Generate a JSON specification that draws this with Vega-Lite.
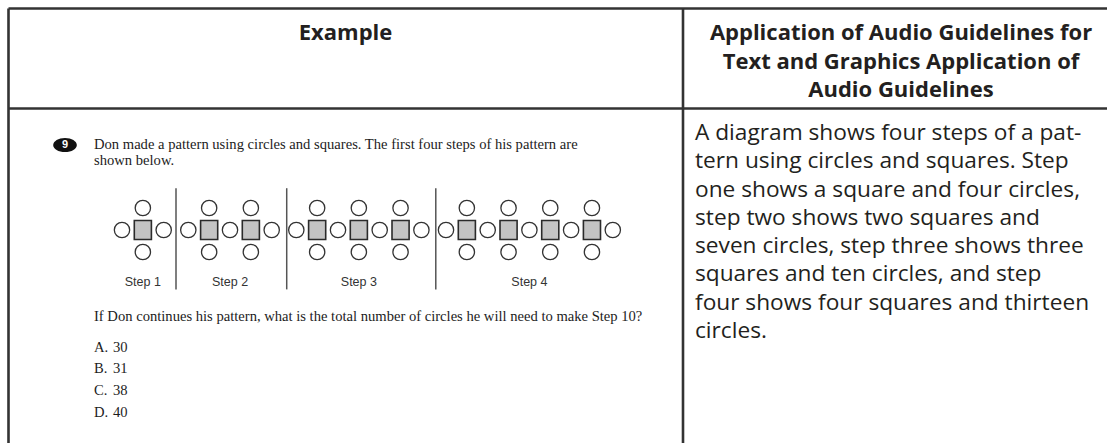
{
  "$schema": "https://vega.github.io/schema/vega-lite/v6.json",
  "width": 1107,
  "height": 443,
  "autosize": "none",
  "padding": 0,
  "background": "#ffffff",
  "config": {"view": {"stroke": null}},
  "datasets": {
    "grid": [
      {"part": "top border", "c1": 0, "c2": 2, "r1": 0, "r2": 0},
      {"part": "header rule", "c1": 0, "c2": 2, "r1": 1, "r2": 1},
      {"part": "left border", "c1": 0, "c2": 0, "r1": 0, "r2": 2},
      {"part": "column rule", "c1": 1, "c2": 1, "r1": 0, "r2": 2}
    ],
    "header": [
      {"col": 0, "line": 1, "text": "Example"},
      {"col": 1, "line": 1, "text": "Application of Audio Guidelines for"},
      {"col": 1, "line": 2, "text": "Text and Graphics Application of"},
      {"col": 1, "line": 3, "text": "Audio Guidelines"}
    ],
    "audio": [
      {"line": 1, "text": "A diagram shows four steps of a pat-"},
      {"line": 2, "text": "tern using circles and squares. Step"},
      {"line": 3, "text": "one shows a square and four circles,"},
      {"line": 4, "text": "step two shows two squares and"},
      {"line": 5, "text": "seven circles, step three shows three"},
      {"line": 6, "text": "squares and ten circles, and step"},
      {"line": 7, "text": "four shows four squares and thirteen"},
      {"line": 8, "text": "circles."}
    ],
    "badge": [{"line": 1, "item": "9"}],
    "question": [
      {"line": 1, "text": "Don made a pattern using circles and squares. The first four steps of his pattern are"},
      {"line": 2, "text": "shown below."},
      {"line": 3, "text": "If Don continues his pattern, what is the total number of circles he will need to make Step 10?"}
    ],
    "options": [
      {"line": 4, "option": "A.", "value": 30},
      {"line": 5, "option": "B.", "value": 31},
      {"line": 6, "option": "C.", "value": 38},
      {"line": 7, "option": "D.", "value": 40}
    ],
    "dividers": [
      {"after_step": 1, "pos": 2.59},
      {"after_step": 2, "pos": 7.9},
      {"after_step": 3, "pos": 15.05}
    ],
    "circles": [
      {"step": 1, "pos": 0, "level": 2}, {"step": 1, "pos": 2, "level": 2},
      {"step": 1, "pos": 1, "level": 1}, {"step": 1, "pos": 1, "level": 3},
      {"step": 2, "pos": 3.18, "level": 2}, {"step": 2, "pos": 5.18, "level": 2}, {"step": 2, "pos": 7.18, "level": 2},
      {"step": 2, "pos": 4.18, "level": 1}, {"step": 2, "pos": 4.18, "level": 3},
      {"step": 2, "pos": 6.18, "level": 1}, {"step": 2, "pos": 6.18, "level": 3},
      {"step": 3, "pos": 8.36, "level": 2}, {"step": 3, "pos": 10.36, "level": 2}, {"step": 3, "pos": 12.36, "level": 2}, {"step": 3, "pos": 14.36, "level": 2},
      {"step": 3, "pos": 9.36, "level": 1}, {"step": 3, "pos": 9.36, "level": 3},
      {"step": 3, "pos": 11.36, "level": 1}, {"step": 3, "pos": 11.36, "level": 3},
      {"step": 3, "pos": 13.36, "level": 1}, {"step": 3, "pos": 13.36, "level": 3},
      {"step": 4, "pos": 15.54, "level": 2}, {"step": 4, "pos": 17.54, "level": 2}, {"step": 4, "pos": 19.54, "level": 2}, {"step": 4, "pos": 21.54, "level": 2}, {"step": 4, "pos": 23.54, "level": 2},
      {"step": 4, "pos": 16.54, "level": 1}, {"step": 4, "pos": 16.54, "level": 3},
      {"step": 4, "pos": 18.54, "level": 1}, {"step": 4, "pos": 18.54, "level": 3},
      {"step": 4, "pos": 20.54, "level": 1}, {"step": 4, "pos": 20.54, "level": 3},
      {"step": 4, "pos": 22.54, "level": 1}, {"step": 4, "pos": 22.54, "level": 3}
    ],
    "squares": [
      {"step": 1, "pos": 1, "level": 2},
      {"step": 2, "pos": 4.18, "level": 2}, {"step": 2, "pos": 6.18, "level": 2},
      {"step": 3, "pos": 9.36, "level": 2}, {"step": 3, "pos": 11.36, "level": 2}, {"step": 3, "pos": 13.36, "level": 2},
      {"step": 4, "pos": 16.54, "level": 2}, {"step": 4, "pos": 18.54, "level": 2}, {"step": 4, "pos": 20.54, "level": 2}, {"step": 4, "pos": 22.54, "level": 2}
    ],
    "steplabels": [
      {"step": 1, "label": "Step 1", "pos": 1},
      {"step": 2, "label": "Step 2", "pos": 5.18},
      {"step": 3, "label": "Step 3", "pos": 11.36},
      {"step": 4, "label": "Step 4", "pos": 19.54}
    ]
  },
  "resolve": {"scale": {"x": "independent", "y": "independent"}},
  "layer": [
    {
      "data": {"name": "grid"},
      "mark": {"type": "rule", "stroke": "#333333", "strokeWidth": 2.6},
      "encoding": {
        "x": {"field": "c1", "type": "quantitative", "axis": null, "scale": {"domain": [0, 1, 2], "range": [8.5, 683, 1130], "zero": false, "nice": false}},
        "x2": {"field": "c2"},
        "y": {"field": "r1", "type": "quantitative", "axis": null, "scale": {"domain": [0, 1, 2], "range": [8.5, 108.5, 480], "zero": false, "nice": false}},
        "y2": {"field": "r2"}
      }
    },
    {
      "data": {"name": "header"},
      "mark": {"type": "text", "font": "Open Sans", "fontWeight": "bold", "fontSize": 22, "align": "center", "baseline": "alphabetic", "color": "#231f20"},
      "encoding": {
        "x": {"field": "col", "type": "quantitative", "axis": null, "scale": {"domain": [0, 1], "range": [345.5, 901], "zero": false, "nice": false}},
        "y": {"field": "line", "type": "quantitative", "axis": null, "scale": {"domain": [1, 3], "range": [40, 97], "zero": false, "nice": false}},
        "text": {"field": "text"}
      }
    },
    {
      "data": {"name": "audio"},
      "mark": {"type": "text", "font": "Open Sans", "fontSize": 22.7, "align": "left", "baseline": "alphabetic", "color": "#231f20"},
      "encoding": {
        "x": {"datum": 0, "type": "quantitative", "axis": null, "scale": {"domain": [0, 1], "range": [695, 1107], "zero": false, "nice": false}},
        "y": {"field": "line", "type": "quantitative", "axis": null, "scale": {"domain": [1, 8], "range": [140, 338], "zero": false, "nice": false}},
        "text": {"field": "text"}
      }
    },
    {
      "layer": [
        {
          "data": {"name": "badge"},
          "mark": {"type": "point", "shape": "M-1,0A1,0.6 0 1,1 1,0A1,0.6 0 1,1 -1,0Z", "size": 560, "filled": true, "fill": "#111111", "stroke": null, "opacity": 1},
          "encoding": {
            "x": {"datum": 0, "type": "quantitative", "axis": null, "scale": {"domain": [0, 1, 2], "range": [65, 94, 113], "zero": false, "nice": false}},
            "y": {"field": "line", "type": "quantitative", "axis": null, "scale": {"domain": [1, 2, 3, 4, 5, 6, 7], "range": [145, 161, 317, 348, 369, 391, 413], "zero": false, "nice": false}}
          }
        },
        {
          "data": {"name": "badge"},
          "mark": {"type": "text", "font": "Liberation Sans", "fontWeight": "bold", "fontSize": 11, "align": "center", "baseline": "middle", "color": "#ffffff"},
          "encoding": {
            "x": {"datum": 0, "type": "quantitative"},
            "y": {"field": "line", "type": "quantitative"},
            "text": {"field": "item"}
          }
        },
        {
          "data": {"name": "question"},
          "mark": {"type": "text", "font": "Liberation Serif", "fontSize": 14.6, "align": "left", "baseline": "middle", "color": "#1c1c1c"},
          "encoding": {
            "x": {"datum": 1, "type": "quantitative"},
            "y": {"field": "line", "type": "quantitative"},
            "text": {"field": "text"}
          }
        },
        {
          "data": {"name": "options"},
          "mark": {"type": "text", "font": "Liberation Serif", "fontSize": 14.6, "align": "left", "baseline": "middle", "color": "#1c1c1c"},
          "encoding": {
            "x": {"datum": 1, "type": "quantitative"},
            "y": {"field": "line", "type": "quantitative"},
            "text": {"field": "option"}
          }
        },
        {
          "data": {"name": "options"},
          "mark": {"type": "text", "font": "Liberation Serif", "fontSize": 14.6, "align": "left", "baseline": "middle", "color": "#1c1c1c"},
          "encoding": {
            "x": {"datum": 2, "type": "quantitative"},
            "y": {"field": "line", "type": "quantitative"},
            "text": {"field": "value", "type": "quantitative"}
          }
        }
      ]
    },
    {
      "layer": [
        {
          "data": {"name": "dividers"},
          "mark": {"type": "rule", "stroke": "#555555", "strokeWidth": 1.5},
          "encoding": {
            "x": {"field": "pos", "type": "quantitative", "axis": null, "scale": {"domain": [0, 23.54], "range": [122, 612.8], "zero": false, "nice": false}},
            "y": {"datum": 0.1, "type": "quantitative", "axis": null, "scale": {"domain": [1, 3], "range": [208, 252], "zero": false, "nice": false}},
            "y2": {"datum": 4.7}
          }
        },
        {
          "data": {"name": "circles"},
          "mark": {"type": "point", "shape": "circle", "size": 235, "filled": false, "stroke": "#333333", "strokeWidth": 1.3, "opacity": 1},
          "encoding": {
            "x": {"field": "pos", "type": "quantitative"},
            "y": {"field": "level", "type": "quantitative"}
          }
        },
        {
          "data": {"name": "squares"},
          "mark": {"type": "point", "shape": "M-0.9,-1H0.9V1H-0.9Z", "size": 361, "filled": true, "fill": "#c4c4c4", "stroke": "#2b2b2b", "strokeWidth": 1.6, "opacity": 1},
          "encoding": {
            "x": {"field": "pos", "type": "quantitative"},
            "y": {"field": "level", "type": "quantitative"}
          }
        },
        {
          "data": {"name": "steplabels"},
          "mark": {"type": "text", "font": "Liberation Sans", "fontSize": 12.5, "align": "center", "baseline": "middle", "color": "#333333"},
          "encoding": {
            "x": {"field": "pos", "type": "quantitative"},
            "y": {"datum": 4.36, "type": "quantitative"},
            "text": {"field": "label"}
          }
        }
      ]
    }
  ]
}
